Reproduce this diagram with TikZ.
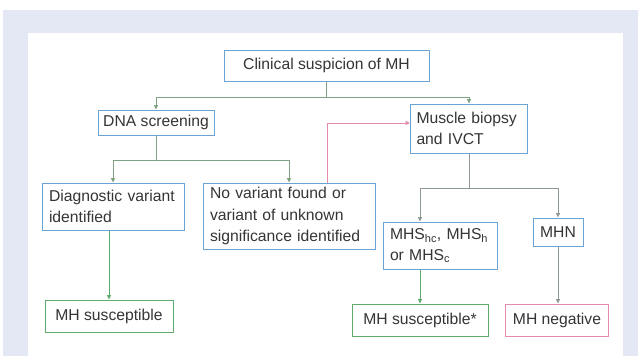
\documentclass[tikz,border=0pt]{standalone}
\usepackage{fontspec}
\setmainfont{Liberation Sans}
\usetikzlibrary{arrows.meta}
\definecolor{outerbg}{HTML}{E3E8F4}
\definecolor{boxblue}{HTML}{6AA4D4}
\definecolor{conn}{HTML}{7FA283}
\definecolor{conngray}{HTML}{8E9A91}
\definecolor{okgreen}{HTML}{5FAA6C}
\definecolor{pinkc}{HTML}{E48BB1}
\definecolor{txt}{HTML}{353535}
\tikzset{
  box/.style={draw=boxblue, line width=1pt, text=txt, inner xsep=7pt, inner ysep=2pt,
    font=\fontsize{15.7}{21.5}\selectfont, align=left, anchor=center},
  gbox/.style={box, draw=okgreen},
  pbox/.style={box, draw=pinkc},
  link/.style={draw=conn, line width=0.9pt, -{Triangle[length=4.5pt,width=4pt]}},
  plain/.style={draw=conn, line width=0.9pt},
}
\begin{document}
\begin{tikzpicture}[x=1pt,y=-1pt]
\useasboundingbox (0,0) rectangle (638,356);
\fill[outerbg] (3,10) rectangle (638,356);
\fill[white] (28,33) rectangle (623,356);

\node[box, align=center, minimum width=205pt, minimum height=31pt] (clin) at (326.5,65.5) {Clinical suspicion of MH};
\node[box, align=center, inner xsep=3pt, minimum width=116pt, minimum height=25pt] (dna) at (156,122.5) {DNA screening};
\node[box, inner xsep=6pt, text width=105pt, minimum height=49pt] (mus) at (469,128.5) {Muscle biopsy\\and IVCT};
\node[box, text width=128pt, minimum height=47pt] (diag) at (113,206.5) {Diagnostic variant\\identified};
\node[box, text width=158pt, minimum height=66pt] (nov) at (289,216) {No variant found or\\variant of unknown\\significance identified};
\node[box, text width=100pt, minimum height=47pt] (mhs) at (440,245.5) {MHS\textsubscript{hc}, MHS\textsubscript{h}\\or MHS\textsubscript{c}};
\node[box, align=center, minimum width=50pt, minimum height=28pt] (mhn) at (558,232) {MHN};
\node[gbox, align=center, minimum width=128pt, minimum height=32pt] (sus1) at (109,316) {MH susceptible};
\node[gbox, align=center, minimum width=136pt, minimum height=32pt] (sus2) at (420,320) {MH susceptible*};
\node[pbox, align=center, minimum width=103pt, minimum height=32pt] (neg) at (557,320) {MH negative};

\coordinate (j1) at (326.5,97);
\coordinate (j2) at (156,160);
\coordinate (j3) at (469,188);

\draw[plain] (clin.south) -- (j1);
\draw[link] (j1) -| (dna.north);
\draw[link] (j1) -| (mus.north);

\draw[plain] (dna.south) -- (j2);
\draw[link] (j2) -| (diag.north);
\draw[link] (j2) -| (nov.north);

\draw[link, draw=pinkc] ([xshift=38pt]nov.north) |- ([yshift=5.5pt]mus.west);

\draw[plain, draw=conngray] (mus.south) -- (j3);
\draw[link, draw=conngray] (j3) -| (mhs.north -| sus2.north);
\draw[link, draw=conngray] (j3) -| (mhn.north);

\draw[link, draw=okgreen] (diag.south -| sus1.north) -- (sus1.north);
\draw[link, draw=okgreen] (mhs.south -| sus2.north) -- (sus2.north);
\draw[link, draw=conngray] (mhn.south) -- (neg.north -| mhn.south);
\end{tikzpicture}
\end{document}
